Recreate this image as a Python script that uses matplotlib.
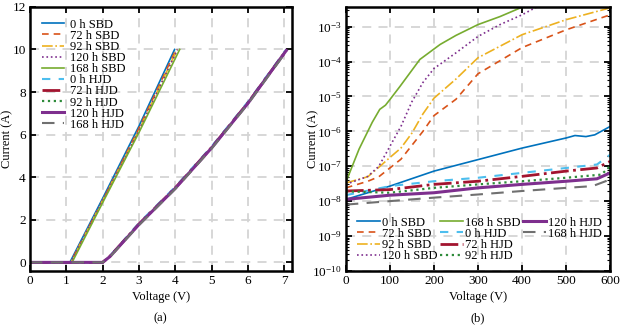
import numpy as np
import matplotlib
matplotlib.use('Agg')
import matplotlib.pyplot as plt
from matplotlib.lines import Line2D
from matplotlib.ticker import LogLocator

plt.rcParams['font.family'] = ['Liberation Serif', 'DejaVu Serif']
plt.rcParams['mathtext.fontset'] = 'stix'

labels = ['0 h SBD', '72 h SBD', '92 h SBD', '120 h SBD', '168 h SBD',
          '0 h HJD', '72 h HJD', '92 h HJD', '120 h HJD', '168 h HJD']
colors = ['#0072BD', '#D95319', '#EDB120', '#7E2F8E', '#77AC30',
          '#4DBEEE', '#A2142F', '#2E8B3A', '#7E2F8E', '#707070']
styles = ['-', (0, (4, 3)), '-.', ':', '-',
          (0, (4, 4)), '-.', ':', '-', (0, (6, 4))]
widths = [1.2, 1.2, 1.2, 1.2, 1.2, 1.5, 2.0, 1.6, 2.2, 1.5]

# (a) forward I-V
v_sbd = [[0, 1.10, 2.0, 3.0, 3.98],
         [0, 1.12, 2.0, 3.0, 4.02],
         [0, 1.13, 2.0, 3.0, 4.05],
         [0, 1.13, 2.0, 3.0, 4.06],
         [0, 1.16, 2.0, 3.0, 4.12]]
i_sbd = [[0, 0, 3.0, 6.4, 10.0],
         [0, 0, 2.9, 6.3, 10.0],
         [0, 0, 2.9, 6.2, 10.0],
         [0, 0, 2.9, 6.2, 10.0],
         [0, 0, 2.8, 6.1, 10.0]]
v_hjd = [0, 2.0, 2.2, 3.0, 4.0, 5.0, 6.0, 7.05]
i_hjd = [[0, 0, 0.30, 1.85, 3.55, 5.45, 7.55, 10.0],
         [0, 0, 0.28, 1.80, 3.50, 5.40, 7.50, 9.95],
         [0, 0, 0.28, 1.80, 3.50, 5.40, 7.50, 9.95],
         [0, 0, 0.27, 1.78, 3.48, 5.38, 7.48, 9.95],
         [0, 0, 0.26, 1.75, 3.45, 5.35, 7.45, 9.9]]

# (b) reverse leakage, log10 of current
v_rev = [[0, 100, 200, 300, 400, 500, 520, 545, 565, 600],
         [0, 50, 75, 100, 125, 150, 175, 200, 250, 300, 400, 500, 600],
         [0, 50, 75, 100, 125, 150, 175, 200, 250, 300, 400, 500, 600],
         [0, 50, 75, 100, 125, 150, 175, 200, 250, 300, 350, 400, 434],
         [0, 30, 60, 77, 90, 100, 123, 168, 214, 250, 300, 350, 402],
         [0, 100, 200, 300, 400, 500, 570, 600],
         [0, 100, 200, 300, 400, 500, 570, 600],
         [0, 100, 200, 300, 400, 500, 580, 600],
         [0, 100, 200, 300, 400, 500, 570, 600],
         [0, 100, 200, 300, 400, 500, 560, 600]]
log_i_rev = [[-7.95, -7.57, -7.14, -6.81, -6.48, -6.19, -6.12, -6.15, -6.1, -5.86],
             [-7.62, -7.43, -7.3, -7.05, -6.8, -6.4, -6.0, -5.55, -5.08, -4.35, -3.6, -3.09, -2.66],
             [-7.48, -7.3, -7.03, -6.75, -6.48, -6.05, -5.5, -5.05, -4.5, -3.89, -3.23, -2.8, -2.46],
             [-7.52, -7.29, -7.0, -6.43, -5.86, -5.15, -4.6, -4.2, -3.75, -3.28, -2.94, -2.66, -2.43],
             [-7.46, -6.51, -5.74, -5.37, -5.25, -5.09, -4.71, -3.94, -3.51, -3.25, -2.94, -2.71, -2.43],
             [-7.83, -7.57, -7.43, -7.33, -7.19, -7.05, -6.95, -6.67],
             [-7.71, -7.67, -7.52, -7.43, -7.29, -7.14, -7.05, -6.86],
             [-7.72, -7.76, -7.62, -7.52, -7.43, -7.33, -7.24, -7.0],
             [-7.95, -7.83, -7.76, -7.62, -7.52, -7.43, -7.36, -7.19],
             [-8.1, -8.0, -7.9, -7.81, -7.71, -7.62, -7.57, -7.38]]

fig = plt.figure(figsize=(6.22, 3.26), dpi=100)
ax1 = fig.add_axes([0.048, 0.169, 0.421, 0.81])
ax2 = fig.add_axes([0.556, 0.169, 0.425, 0.81])

fs = 9.5
for ax in (ax1, ax2):
    ax.grid(True, which='major', color='#d4d4d4', linestyle=(0, (5, 4)), linewidth=1.3)
    ax.set_axisbelow(True)
    for s in ax.spines.values():
        s.set_linewidth(1.8)
    ax.tick_params(direction='in', top=True, right=True, length=4, width=1.3,
                   labelsize=fs, pad=3)
    ax.set_xlabel('Voltage (V)', fontsize=9, labelpad=3)
    ax.set_ylabel('Current (A)', fontsize=9)
ax1.yaxis.set_label_coords(-0.065, 0.5)
ax2.yaxis.set_label_coords(-0.102, 0.5)

handles = []
for k in range(10):
    if k < 5:
        x, y = v_sbd[k], i_sbd[k]
    else:
        x, y = v_hjd, i_hjd[k - 5]
    h, = ax1.plot(x, y, color=colors[k], linestyle=styles[k], linewidth=widths[k],
                  label=labels[k])
    handles.append(h)
ax1.set_xlim(0, 7.2)
ax1.set_ylim(-0.4, 12)
ax1.set_xticks(range(0, 8))
ax1.set_yticks(range(0, 13, 2))
ax1.legend(handles=handles, loc='upper left', frameon=False, fontsize=9,
           handlelength=1.8, labelspacing=-0.07, borderaxespad=0.55,
           handletextpad=0.5)

handles2 = []
for k in range(10):
    h, = ax2.plot(v_rev[k], 10 ** np.array(log_i_rev[k]), color=colors[k],
                  linestyle=styles[k], linewidth=widths[k], label=labels[k])
    handles2.append(h)
ax2.set_yscale('log')
ax2.set_xlim(0, 600)
ax2.set_ylim(1e-10, 3.7e-3)
ax2.set_yticks([10.0 ** e for e in range(-10, -2)])
ax2.yaxis.set_minor_locator(LogLocator(base=10, subs=np.arange(2, 10), numticks=20))
ax2.tick_params(which='minor', direction='in', length=2, width=0.8, right=True)
blank = Line2D([], [], linestyle='none')
order = handles2 + [blank, blank]
lab2 = labels + ['', '']
ax2.legend(order, lab2, loc='lower left', bbox_to_anchor=(0.02, 0.01), ncol=3,
           frameon=False, fontsize=9, handlelength=1.8, labelspacing=-0.07,
           columnspacing=0.2, handletextpad=0.2, borderaxespad=0.1)

fig.text(0.258, 0.025, '(a)', ha='center', va='center', fontsize=9)
fig.text(0.768, 0.025, '(b)', ha='center', va='center', fontsize=9)

fig.savefig('out.png', dpi=100)
